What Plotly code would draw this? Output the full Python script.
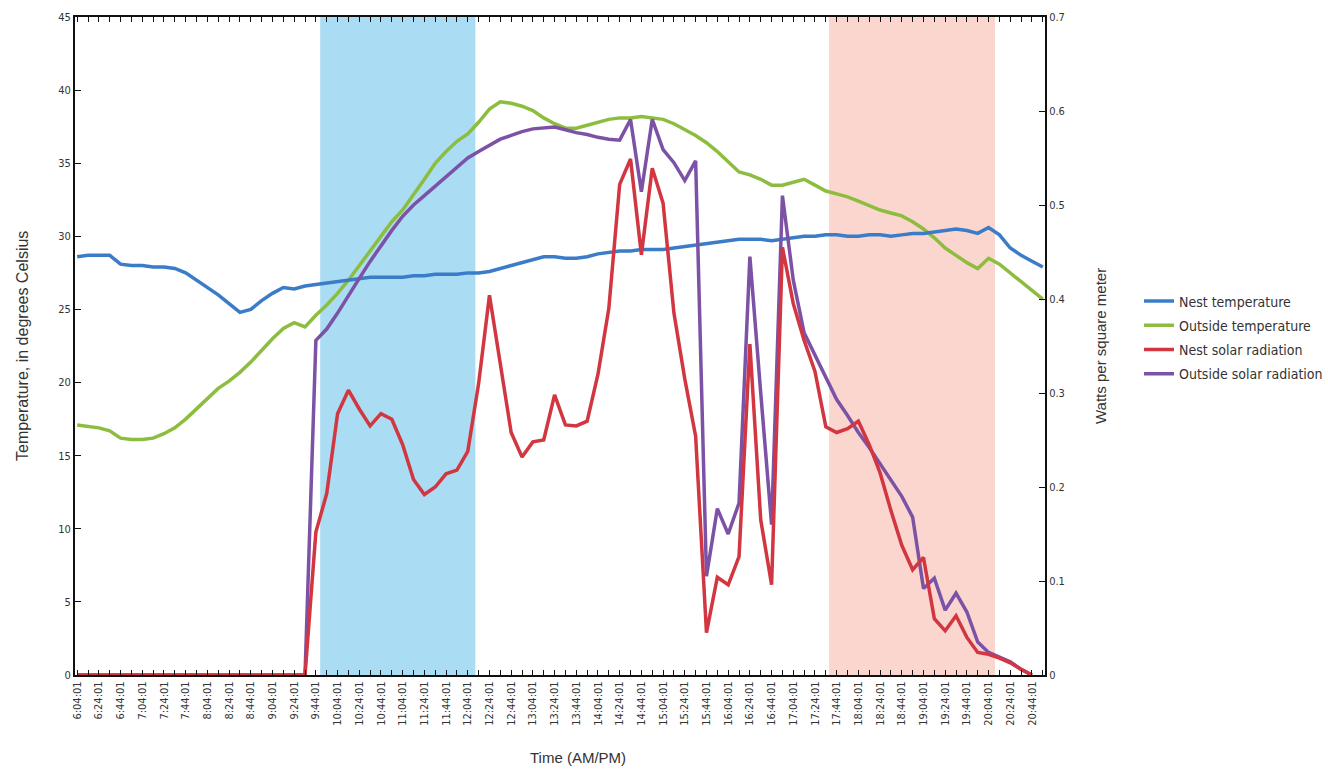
import plotly.graph_objects as go

# Sample times, every 10 minutes from 6:04:01 to 20:54:01
times = []
for k in range(90):
    m = 6 * 60 + 4 + 10 * k
    times.append(f"{m // 60}:{m % 60:02d}:01")

# Temperatures, degrees Celsius (left axis)
nest_temp = [
    28.6, 28.7, 28.7, 28.7, 28.1, 28.0, 28.0, 27.9, 27.9, 27.8,
    27.5, 27.0, 26.5, 26.0, 25.4, 24.8, 25.0, 25.6, 26.1, 26.5,
    26.4, 26.6, 26.7, 26.8, 26.9, 27.0, 27.1, 27.2, 27.2, 27.2,
    27.2, 27.3, 27.3, 27.4, 27.4, 27.4, 27.5, 27.5, 27.6, 27.8,
    28.0, 28.2, 28.4, 28.6, 28.6, 28.5, 28.5, 28.6, 28.8, 28.9,
    29.0, 29.0, 29.1, 29.1, 29.1, 29.2, 29.3, 29.4, 29.5, 29.6,
    29.7, 29.8, 29.8, 29.8, 29.7, 29.8, 29.9, 30.0, 30.0, 30.1,
    30.1, 30.0, 30.0, 30.1, 30.1, 30.0, 30.1, 30.2, 30.2, 30.3,
    30.4, 30.5, 30.4, 30.2, 30.6, 30.1, 29.2, 28.7, 28.3, 27.9,
]
outside_temp = [
    17.1, 17.0, 16.9, 16.7, 16.2, 16.1, 16.1, 16.2, 16.5, 16.9,
    17.5, 18.2, 18.9, 19.6, 20.1, 20.7, 21.4, 22.2, 23.0, 23.7,
    24.1, 23.8, 24.6, 25.3, 26.1, 27.0, 28.0, 29.0, 30.0, 31.0,
    31.8, 32.8, 33.9, 35.0, 35.8, 36.5, 37.0, 37.8, 38.7, 39.2,
    39.1, 38.9, 38.6, 38.1, 37.7, 37.4, 37.4, 37.6, 37.8, 38.0,
    38.1, 38.1, 38.2, 38.1, 38.0, 37.7, 37.3, 36.9, 36.4, 35.8,
    35.1, 34.4, 34.2, 33.9, 33.5, 33.5, 33.7, 33.9, 33.5, 33.1,
    32.9, 32.7, 32.4, 32.1, 31.8, 31.6, 31.4, 31.0, 30.5, 29.9,
    29.2, 28.7, 28.2, 27.8, 28.5, 28.1, 27.5, 26.9, 26.3, 25.7,
]

# Solar radiation, watts per square meter (right axis)
nest_solar = [
    0, 0, 0, 0, 0, 0, 0, 0, 0, 0,
    0, 0, 0, 0, 0, 0, 0, 0, 0, 0,
    0, 0, 0.152, 0.193, 0.278, 0.303, 0.283, 0.265, 0.278, 0.272,
    0.245, 0.208, 0.192, 0.200, 0.214, 0.218, 0.238, 0.310, 0.404, 0.330,
    0.258, 0.232, 0.248, 0.250, 0.298, 0.266, 0.265, 0.270, 0.320, 0.390,
    0.522, 0.549, 0.447, 0.539, 0.502, 0.385, 0.315, 0.254, 0.045, 0.104,
    0.096, 0.126, 0.352, 0.165, 0.096, 0.455, 0.395, 0.356, 0.323, 0.264,
    0.258, 0.262, 0.270, 0.245, 0.215, 0.175, 0.138, 0.112, 0.125, 0.060,
    0.047, 0.063, 0.040, 0.024, 0.022, 0.018, 0.013, 0.006, 0.0, None,
]
outside_solar = [
    0, 0, 0, 0, 0, 0, 0, 0, 0, 0,
    0, 0, 0, 0, 0, 0, 0, 0, 0, 0,
    0, 0, 0.356, 0.368, 0.385, 0.404, 0.422, 0.440, 0.457, 0.473,
    0.488, 0.500, 0.510, 0.520, 0.530, 0.540, 0.550, 0.557, 0.563, 0.570,
    0.574, 0.578, 0.581, 0.582, 0.583, 0.580, 0.577, 0.575, 0.572, 0.570,
    0.569, 0.591, 0.514, 0.591, 0.559, 0.545, 0.526, 0.547, 0.105, 0.177,
    0.150, 0.183, 0.445, 0.300, 0.160, 0.510, 0.420, 0.364, 0.340, 0.315,
    0.293, 0.276, 0.258, 0.242, 0.225, 0.208, 0.190, 0.168, 0.092, 0.103,
    0.069, 0.087, 0.067, 0.035, 0.024, 0.019, 0.014, 0.006, 0.0, None,
]

# Highlighted periods, in sample-index units along the time axis
morning_band = (22.4, 36.7)
evening_band = (69.3, 84.6)

NARROW = "Liberation Sans Narrow, DejaVu Sans Condensed, Arial Narrow, sans-serif"
REGULAR = "Liberation Sans, Arial, DejaVu Sans, sans-serif"
TXT = "#333333"

x_idx = list(range(len(times)))

fig = go.Figure()

series = [
    ("Nest temperature", nest_temp, "#3b7cc8", "y"),
    ("Outside temperature", outside_temp, "#8dbd3f", "y"),
    ("Nest solar radiation", nest_solar, "#d13641", "y2"),
    ("Outside solar radiation", outside_solar, "#7b52a6", "y2"),
]
# Draw radiation lines first so the temperature lines stay on top
draw_order = [3, 2, 1, 0]
for k in draw_order:
    name, vals, col, ax = series[k]
    fig.add_trace(go.Scatter(
        x=x_idx, y=vals, name=name, mode="lines", yaxis=ax,
        line=dict(color=col, width=3.5), legendrank=k + 1,
        legendgroup=name, connectgaps=False,
    ))

for (x0, x1), col in [(morning_band, "#aadcf3"), (evening_band, "#fbd6ce")]:
    fig.add_shape(type="rect", xref="x", yref="paper", x0=x0, x1=x1,
                  y0=0, y1=1, fillcolor=col, line_width=0, layer="below")

tick_text = [t if i % 2 == 0 else "" for i, t in enumerate(times)]

fig.update_layout(
    width=1328, height=772,
    margin=dict(l=75, r=283, t=17, b=97, autoexpand=False),
    paper_bgcolor="white", plot_bgcolor="white",
    font=dict(family=NARROW, color=TXT, size=12),
    showlegend=True,
    legend=dict(x=(1139 - 75) / 970, y=0.592, xanchor="left", yanchor="top",
                font=dict(family=NARROW, size=14, color=TXT),
                tracegroupgap=3, itemwidth=30, bgcolor="rgba(0,0,0,0)"),
    xaxis=dict(
        range=[-0.2, 89.2], tickmode="array", tickvals=x_idx, ticktext=tick_text,
        tickangle=-90, ticks="inside", ticklen=5, tickcolor="#111",
        showline=True, linecolor="#111", linewidth=2, mirror="ticks",
        showgrid=False, zeroline=False, tickfont=dict(size=11, family=NARROW),
    ),
    yaxis=dict(
        range=[0, 45], dtick=5, ticks="inside", ticklen=6, tickcolor="#111",
        showline=True, linecolor="#111", linewidth=2, showgrid=False,
        zeroline=False, tickfont=dict(size=11, family=NARROW),
    ),
    yaxis2=dict(
        range=[0, 0.7], dtick=0.1, overlaying="y", side="right",
        ticks="inside", ticklen=6, tickcolor="#111", showline=True,
        linecolor="#111", linewidth=2, showgrid=False, zeroline=False,
        tickfont=dict(size=11, family=NARROW),
    ),
    annotations=[
        dict(text="Time (AM/PM)", x=(578 - 75) / 970, y=-0.125, xref="paper",
             yref="paper", xanchor="center", yanchor="middle", showarrow=False,
             font=dict(size=15, family=REGULAR, color=TXT)),
        dict(text="Temperature, in degrees Celsius", x=(22 - 75) / 970, y=0.5,
             xref="paper", yref="paper", xanchor="center", yanchor="middle",
             showarrow=False, textangle=-90,
             font=dict(size=16, family=REGULAR, color=TXT)),
        dict(text="Watts per square meter", x=(1100 - 75) / 970, y=0.5,
             xref="paper", yref="paper", xanchor="center", yanchor="middle",
             showarrow=False, textangle=-90,
             font=dict(size=15, family=REGULAR, color=TXT)),
    ],
)

fig.write_html("out.html")
